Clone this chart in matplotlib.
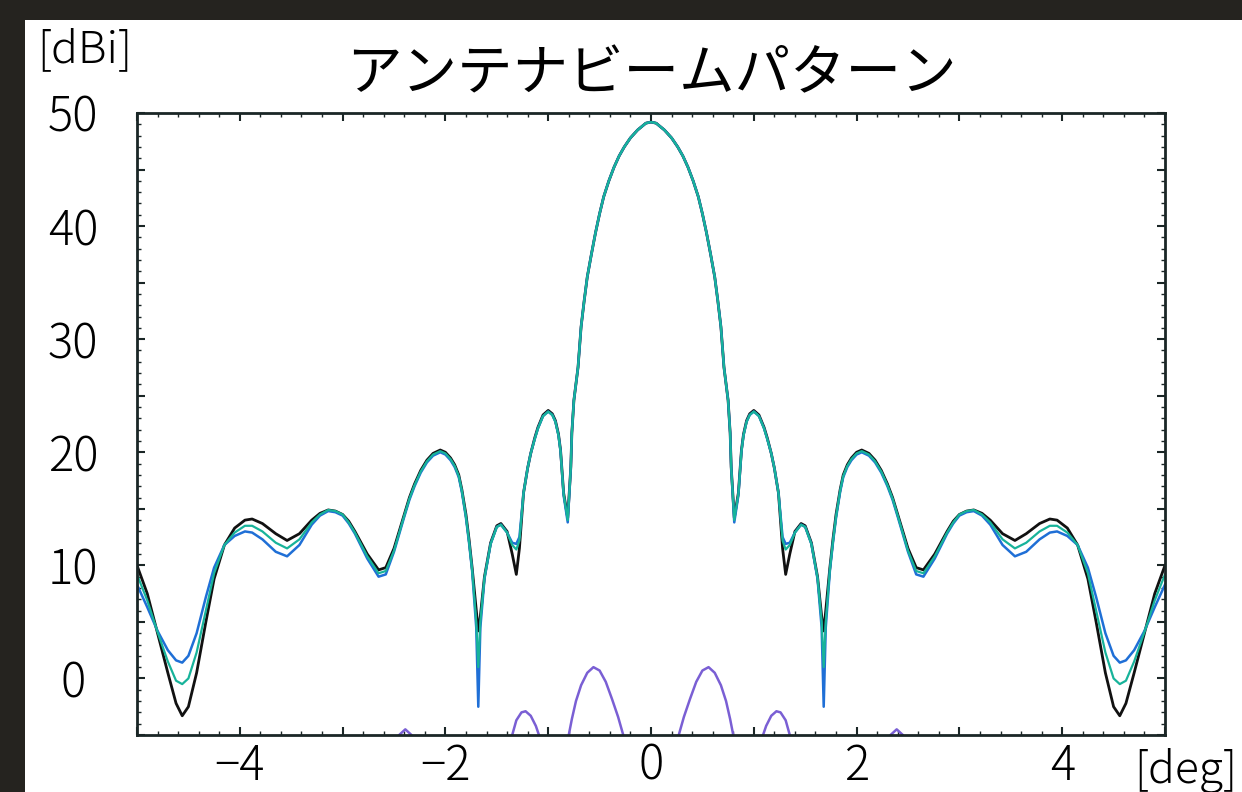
import matplotlib
matplotlib.use("Agg")
import matplotlib.pyplot as plt
from matplotlib.patches import Rectangle
from matplotlib.ticker import MultipleLocator, FuncFormatter

plt.rcParams['font.family'] = ['Noto Sans CJK JP', 'DejaVu Sans']
plt.rcParams['font.weight'] = 'light'

# beam pattern samples (deg, dBi)
deg = [-5.00, -4.90, -4.80, -4.70, -4.62, -4.56, -4.50, -4.42, -4.33, -4.25,
       -4.15, -4.05, -3.95, -3.88, -3.78, -3.65, -3.54, -3.42, -3.30, -3.22,
       -3.14, -3.07, -3.00, -2.94, -2.88, -2.76, -2.65, -2.58, -2.50, -2.40,
       -2.35, -2.30, -2.24, -2.18, -2.12, -2.05, -2.00, -1.95, -1.91, -1.87,
       -1.84, -1.80, -1.77, -1.74, -1.70, -1.68, -1.66, -1.62, -1.56, -1.50,
       -1.46, -1.40, -1.35, -1.31, -1.28, -1.24, -1.20, -1.17, -1.13, -1.10,
       -1.05, -1.00, -0.96, -0.93, -0.90, -0.88, -0.85, -0.81, -0.78, -0.77,
       -0.75, -0.71, -0.68, -0.65, -0.62, -0.58, -0.54, -0.50, -0.46, -0.41,
       -0.36, -0.31, -0.26, -0.20, -0.13, -0.05, 0.00,
       0.05, 0.13, 0.20, 0.26, 0.31, 0.36,
       0.41, 0.46, 0.50, 0.54, 0.58, 0.62, 0.65, 0.68, 0.71, 0.75,
       0.77, 0.78, 0.81, 0.85, 0.88, 0.90, 0.93, 0.96, 1.00, 1.05,
       1.10, 1.13, 1.17, 1.20, 1.24, 1.28, 1.31, 1.35, 1.40, 1.46,
       1.50, 1.56, 1.62, 1.66, 1.68, 1.70, 1.74, 1.77, 1.80, 1.84,
       1.87, 1.91, 1.95, 2.00, 2.05, 2.12, 2.18, 2.24, 2.30, 2.35,
       2.40, 2.50, 2.58, 2.65, 2.76, 2.88, 2.94, 3.00, 3.07, 3.14,
       3.22, 3.30, 3.42, 3.54, 3.65, 3.78, 3.88, 3.95, 4.05, 4.15,
       4.25, 4.33, 4.42, 4.50, 4.56, 4.62, 4.70, 4.80, 4.90, 5.00]

gain_black = [10.0, 7.5, 4.0, 0.5, -2.2, -3.3, -2.5, 0.5, 5.0, 8.8,
              11.8, 13.3, 14.0, 14.1, 13.7, 12.8, 12.2, 12.8, 14.0, 14.6,
              14.9, 14.8, 14.5, 13.9, 13.0, 11.0, 9.6, 9.8, 11.5, 14.5,
              16.0, 17.2, 18.4, 19.3, 19.9, 20.2, 20.0, 19.5, 18.9, 18.0,
              16.7, 14.5, 12.3, 9.8, 6.0, 4.2, 5.5, 9.0, 12.0, 13.5,
              13.7, 13.0, 11.0, 9.2, 11.5, 16.4, 18.6, 19.9, 21.3, 22.2,
              23.3, 23.7, 23.4, 22.8, 21.6, 20.2, 16.4, 14.2, 18.7, 21.7,
              24.6, 27.5, 31.1, 33.4, 35.5, 37.5, 39.4, 41.1, 42.6, 44.0,
              45.2, 46.2, 47.0, 47.8, 48.5, 49.1, 49.2,
              49.1, 48.5, 47.8, 47.0, 46.2, 45.2,
              44.0, 42.6, 41.1, 39.4, 37.5, 35.5, 33.4, 31.1, 27.5, 24.6,
              21.7, 18.7, 14.2, 16.4, 20.2, 21.6, 22.8, 23.4, 23.7, 23.3,
              22.2, 21.3, 19.9, 18.6, 16.4, 11.5, 9.2, 11.0, 13.0, 13.7,
              13.5, 12.0, 9.0, 5.5, 4.2, 6.0, 9.8, 12.3, 14.5, 16.7,
              18.0, 18.9, 19.5, 20.0, 20.2, 19.9, 19.3, 18.4, 17.2, 16.0,
              14.5, 11.5, 9.8, 9.6, 11.0, 13.0, 13.9, 14.5, 14.8, 14.9,
              14.6, 14.0, 12.8, 12.2, 12.8, 13.7, 14.1, 14.0, 13.3, 11.8,
              8.8, 5.0, 0.5, -2.5, -3.3, -2.2, 0.5, 4.0, 7.5, 10.0]

gain_blue = [8.3, 6.3, 4.2, 2.5, 1.6, 1.4, 2.0, 4.0, 7.2, 9.8,
             11.8, 12.6, 13.0, 12.9, 12.3, 11.2, 10.8, 11.8, 13.6, 14.4,
             14.8, 14.7, 14.4, 13.7, 12.8, 10.6, 9.0, 9.2, 11.2, 14.3,
             15.8, 17.0, 18.2, 19.1, 19.7, 20.0, 19.8, 19.3, 18.7, 17.8,
             16.5, 14.2, 12.0, 9.5, 4.5, -2.5, 4.5, 8.8, 11.9, 13.4,
             13.6, 12.9, 12.0, 11.9, 12.5, 16.4, 18.6, 19.9, 21.2, 22.1,
             23.2, 23.6, 23.3, 22.7, 21.5, 20.1, 16.2, 13.8, 18.7, 21.7,
             24.6, 27.5, 31.1, 33.4, 35.5, 37.5, 39.4, 41.1, 42.6, 44.0,
             45.2, 46.2, 47.0, 47.8, 48.5, 49.1, 49.2,
             49.1, 48.5, 47.8, 47.0, 46.2, 45.2,
             44.0, 42.6, 41.1, 39.4, 37.5, 35.5, 33.4, 31.1, 27.5, 24.6,
             21.7, 18.7, 13.8, 16.2, 20.1, 21.5, 22.7, 23.3, 23.6, 23.2,
             22.1, 21.2, 19.9, 18.6, 16.4, 12.5, 11.9, 12.0, 12.9, 13.6,
             13.4, 11.9, 8.8, 4.5, -2.5, 4.5, 9.5, 12.0, 14.2, 16.5,
             17.8, 18.7, 19.3, 19.8, 20.0, 19.7, 19.1, 18.2, 17.0, 15.8,
             14.3, 11.2, 9.2, 9.0, 10.6, 12.8, 13.7, 14.4, 14.7, 14.8,
             14.4, 13.6, 11.8, 10.8, 11.2, 12.3, 12.9, 13.0, 12.6, 11.8,
             9.8, 7.2, 4.0, 2.0, 1.4, 1.6, 2.5, 4.2, 6.3, 8.3]

gain_green = [9.2, 6.9, 4.1, 1.5, -0.2, -0.5, 0.0, 2.3, 6.0, 9.3,
              11.8, 12.9, 13.5, 13.5, 13.0, 12.0, 11.5, 12.3, 13.8, 14.5,
              14.9, 14.8, 14.5, 13.8, 12.9, 10.8, 9.3, 9.5, 11.3, 14.4,
              15.9, 17.1, 18.3, 19.2, 19.8, 20.1, 19.9, 19.4, 18.8, 17.9,
              16.6, 14.3, 12.1, 9.6, 5.0, 1.0, 5.0, 8.9, 11.9, 13.4,
              13.6, 12.9, 11.8, 11.4, 12.2, 16.4, 18.6, 19.9, 21.2, 22.1,
              23.2, 23.6, 23.3, 22.7, 21.5, 20.1, 16.3, 14.0, 18.7, 21.7,
              24.6, 27.5, 31.1, 33.4, 35.5, 37.5, 39.4, 41.1, 42.6, 44.0,
              45.2, 46.2, 47.0, 47.8, 48.5, 49.1, 49.2,
              49.1, 48.5, 47.8, 47.0, 46.2, 45.2,
              44.0, 42.6, 41.1, 39.4, 37.5, 35.5, 33.4, 31.1, 27.5, 24.6,
              21.7, 18.7, 14.0, 16.3, 20.1, 21.5, 22.7, 23.3, 23.6, 23.2,
              22.1, 21.2, 19.9, 18.6, 16.4, 12.2, 11.4, 11.8, 12.9, 13.6,
              13.4, 11.9, 8.9, 5.0, 1.0, 5.0, 9.6, 12.1, 14.3, 16.6,
              17.9, 18.8, 19.4, 19.9, 20.1, 19.8, 19.2, 18.3, 17.1, 15.9,
              14.4, 11.3, 9.5, 9.3, 10.8, 12.9, 13.8, 14.5, 14.8, 14.9,
              14.5, 13.8, 12.3, 11.5, 12.0, 13.0, 13.5, 13.5, 12.9, 11.8,
              9.3, 6.0, 2.3, 0.0, -0.5, -0.2, 1.5, 4.1, 6.9, 9.2]

# low level pattern, clipped at the bottom of the chart
deg_purple = [-5.00, -2.55, -2.45, -2.39, -2.33, -2.25, -1.45, -1.35, -1.31, -1.26,
              -1.22, -1.17, -1.12, -1.09, -1.00, -0.88, -0.80, -0.77, -0.73, -0.68,
              -0.62, -0.56, -0.50, -0.44, -0.38, -0.32, -0.27, -0.18, 0.00,
              0.18, 0.27, 0.32, 0.38, 0.44, 0.50, 0.56, 0.62, 0.68, 0.73,
              0.77, 0.80, 0.88, 1.00, 1.09, 1.12, 1.17, 1.22, 1.26, 1.31,
              1.35, 1.45, 2.25, 2.33, 2.39, 2.45, 2.55, 5.00]
gain_purple = [-9.0, -7.0, -5.0, -4.5, -5.0, -7.0, -8.0, -5.0, -3.7, -3.0,
               -2.9, -3.3, -4.2, -5.0, -8.0, -9.0, -5.0, -3.6, -2.0, -0.6,
               0.5, 1.0, 0.7, -0.3, -1.8, -3.4, -5.0, -9.0, -15.0,
               -9.0, -5.0, -3.4, -1.8, -0.3, 0.7, 1.0, 0.5, -0.6, -2.0,
               -3.6, -5.0, -9.0, -8.0, -5.0, -4.2, -3.3, -2.9, -3.0, -3.7,
               -5.0, -8.0, -7.0, -5.0, -4.5, -5.0, -7.0, -9.0]

fig = plt.figure(figsize=(12.42, 7.92), dpi=100)
fig.patch.set_facecolor('#25231f')
fig.patches.append(Rectangle((25 / 1242, 0), 1217 / 1242, 772 / 792,
                             transform=fig.transFigure, facecolor='white',
                             edgecolor='none', zorder=-1))

ax = fig.add_axes([137 / 1242, 57 / 792, 1028 / 1242, 622 / 792])
ax.set_facecolor('white')

ax.plot(deg, gain_black, color='#111111', lw=2.0)
ax.plot(deg, gain_blue, color='#1f6fd6', lw=1.8)
ax.plot(deg, gain_green, color='#17b39a', lw=1.6)
ax.plot(deg_purple, gain_purple, color='#7a5fd4', lw=1.8)

ax.set_xlim(-5, 5)
ax.set_ylim(-5, 50)

ax.xaxis.set_major_locator(MultipleLocator(1))
ax.xaxis.set_minor_locator(MultipleLocator(0.2))
ax.yaxis.set_major_locator(MultipleLocator(5))
ax.yaxis.set_minor_locator(MultipleLocator(1))


def x_fmt(v, pos):
    if round(v) % 2 != 0:
        return ''
    return f"{v:g}".replace('-', '\u2212')


def y_fmt(v, pos):
    if round(v) % 10 != 0:
        return ''
    return f"{v:g}"


ax.xaxis.set_major_formatter(FuncFormatter(x_fmt))
ax.yaxis.set_major_formatter(FuncFormatter(y_fmt))

ax.tick_params(which='both', direction='in', top=True, right=True,
               color='#1a2626')
ax.tick_params(which='major', length=6, width=1.5, labelsize=34)
ax.tick_params(which='minor', length=3, width=1.0)
ax.tick_params(axis='x', pad=5)
ax.tick_params(axis='y', pad=46)
for lbl in ax.get_yticklabels():
    lbl.set_horizontalalignment('center')

for sp in ax.spines.values():
    sp.set_color('#1a2626')
    sp.set_linewidth(2)

ax.set_title('アンテナビームパターン', fontsize=40, pad=16)
fig.text(37 / 1242, 1 - 50 / 792, '[dBi]', fontsize=32, ha='left', va='center')
fig.text(1237 / 1242, 1 - 770 / 792, '[deg]', fontsize=32, ha='right', va='center')

fig.savefig('out.png', dpi=100, facecolor=fig.get_facecolor())
